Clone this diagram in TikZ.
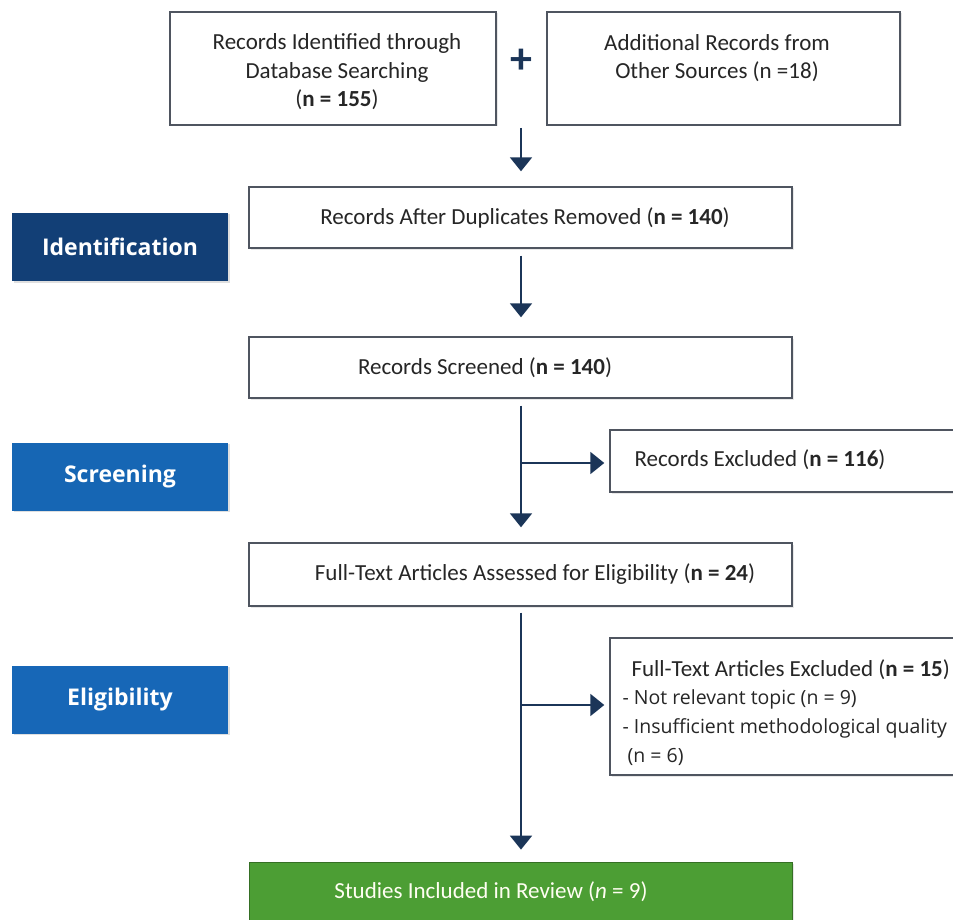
\documentclass[tikz,border=0pt]{standalone}
\usepackage{fontspec}
\setmainfont{Carlito}
\newfontfamily\lblfont{Open Sans}
\usetikzlibrary{arrows.meta,shadows}
\definecolor{navy}{HTML}{1B3558}
\definecolor{idblue}{HTML}{123F76}
\definecolor{scblue}{HTML}{1666B4}
\definecolor{elblue}{HTML}{1767B7}
\definecolor{incgreen}{HTML}{4C9E34}
\definecolor{boxline}{HTML}{4F5560}
\tikzset{
  flowbox/.style={draw=boxline, line width=1.4pt, fill=white, inner sep=0pt,
    drop shadow={shadow xshift=1.5pt, shadow yshift=-1.5pt, opacity=0.18}},
  phase/.style={inner sep=0pt, minimum width=216pt, minimum height=68pt,
    text=white, font=\lblfont\bfseries\fontsize{23}{26}\selectfont,
    drop shadow={shadow xshift=1.5pt, shadow yshift=-1.5pt, opacity=0.25}},
  boxtext/.style={font=\fontsize{23}{28.5}\selectfont, align=center, text=black!85},
  conn/.style={draw=navy, line width=2pt},
  arr/.style={conn, -{Triangle[width=22pt,length=14pt]}},
}
\begin{document}
\begin{tikzpicture}[x=1pt,y=-1pt]
\useasboundingbox (0,0) rectangle (953,920);
% top boxes
\node[flowbox, minimum width=326pt, minimum height=113pt] (boxA) at (333,68.5) {};
\node[boxtext] (txtA) at (337,72) {Records Identified through\\Database Searching\\(\textbf{n = 155})};
\node[flowbox, minimum width=353pt, minimum height=113pt] (boxB) at (723.5,68.5) {};
\node[boxtext] (txtB) at (717,58) {Additional Records from\\Other Sources (n =18)};
\node[text=navy, font=\bfseries\fontsize{44}{44}\selectfont] (plus) at (521,61) {+};
% main column
\node[flowbox, minimum width=543pt, minimum height=61pt] (boxC) at (520.5,217.5) {};
\node[boxtext] (txtC) at (525,217.5) {Records After Duplicates Removed (\textbf{n = 140})};
\node[flowbox, minimum width=543pt, minimum height=61pt] (boxD) at (520.5,367.5) {};
\node[boxtext] (txtD) at (485,367.5) {Records Screened (\textbf{n = 140})};
\node[flowbox, minimum width=543pt, minimum height=63pt] (boxF) at (520.5,574.5) {};
\node[boxtext] (txtF) at (535,574.5) {Full-Text Articles Assessed for Eligibility (\textbf{n = 24})};
\node[fill=incgreen, draw=incgreen!70!black, line width=0.8pt, inner sep=0pt,
  minimum width=543pt, minimum height=64pt,
  drop shadow={shadow xshift=1.5pt, shadow yshift=-1.5pt, opacity=0.2}] (boxH) at (520.5,894) {};
\node[boxtext, text=white!95!yellow] (txtH) at (491,892) {Studies Included in Review (\textit{n} = 9)};
% right boxes
\node[flowbox, minimum width=350pt, minimum height=62pt] (boxE) at (785,461) {};
\node[boxtext, anchor=west] (txtE) at (631,460) {Records Excluded (\textbf{n = 116})};
\node[flowbox, minimum width=350pt, minimum height=137pt] (boxG) at (785,706.5) {};
\node[boxtext, anchor=west] (txtG1) at (628,670) {Full-Text Articles Excluded (\textbf{n = 15})};
\node[anchor=west, font=\lblfont\fontsize{19.5}{29}\selectfont, align=left, text=black!85] (txtG2) at (619,727.5)
  {- Not relevant topic (n = 9)\\- Insufficient methodological quality\\\ (n = 6)};
% phase labels
\node[phase, fill=idblue] (idl) at (120,247) {Identification};
\node[phase, fill=scblue] (scl) at (120,476.5) {Screening};
\node[phase, fill=elblue] (ell) at (120,699.5) {Eligibility};
% connectors
\coordinate (s1) at (521,128);
\draw[arr, shorten >=15pt] (s1) -- (boxC.north -| s1);
\draw[arr, shorten <=7pt, shorten >=19pt] (boxC.south -| s1) -- (boxD.north -| s1);
\draw[arr, shorten <=7pt, shorten >=15pt] (boxD.south -| s1) -- (boxF.north -| s1);
\coordinate (b1) at (521,463);
\draw[arr, shorten >=5pt] (b1) -- (boxE.west |- b1);
\draw[arr, shorten <=6pt, shorten >=12pt] (boxF.south -| s1) -- (boxH.north -| s1);
\coordinate (b2) at (521,705);
\draw[arr, shorten >=5pt] (b2) -- (boxG.west |- b2);
\end{tikzpicture}
\end{document}
